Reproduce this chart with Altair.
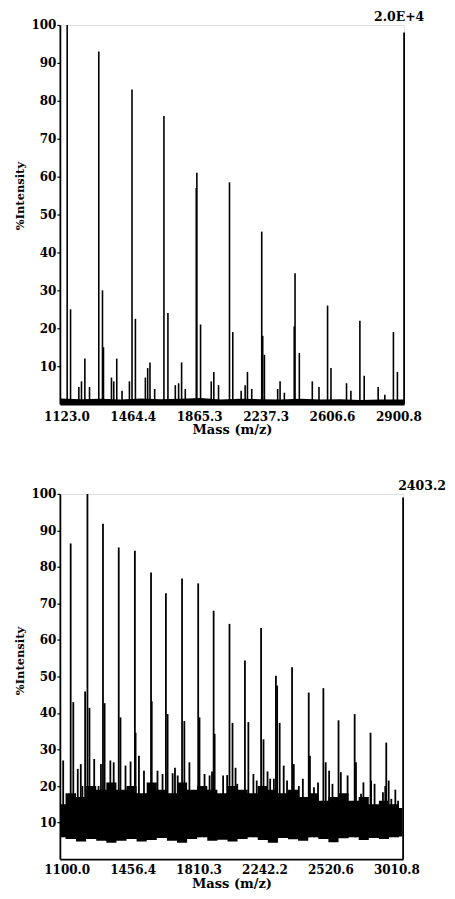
import altair as alt
import pandas as pd

# ---------------- Top spectrum ----------------
top_peak_mass = [1127.3, 1145.4, 1189.8, 1204.0, 1222.0, 1247.0, 1296.6, 1316.4, 1321.7,
                 1364.5, 1376.7, 1392.8, 1421.0, 1460.6, 1474.5, 1492.7, 1546.0, 1558.4,
                 1570.7, 1595.8, 1645.4, 1666.8, 1706.3, 1724.0, 1740.0, 1759.8, 1818.5,
                 1821.7, 1841.5, 1898.7, 1912.5, 1937.7, 1996.4, 2014.0, 2058.9, 2080.3,
                 2092.6, 2115.5, 2169.0, 2174.3, 2183.4, 2254.4, 2267.3, 2290.2, 2343.0,
                 2347.4, 2370.4, 2439.8, 2475.6, 2521.5, 2539.7, 2623.0, 2646.5, 2694.6,
                 2717.6, 2792.4, 2828.2, 2874.1, 2895.5]
top_peak_int = [100, 25, 4.5, 6, 12, 4.5, 93, 30, 15,
                7, 6, 12, 3.5, 6, 83, 22.5, 7, 9.5,
                11, 4, 76, 24, 5, 5.5, 11, 4, 57,
                61, 21, 6, 8.5, 5, 58.5, 19, 3.5, 5,
                8.5, 4, 45.5, 18, 13, 4, 6, 3, 20.5,
                34.5, 13.5, 6, 4.5, 26, 9.5, 5.5, 3.5, 22,
                7.5, 4.5, 2.5, 19, 8.5]
top_base_mass = [1090.0, 1200.5, 1307.3, 1414.1, 1521.0, 1627.8, 1734.7, 1841.5, 1948.3,
                 2055.2, 2162.0, 2268.9, 2375.7, 2482.5, 2589.4, 2696.2, 2803.1, 2930.0]
top_base_int = [1.5, 1.3, 1.4, 1.2, 1.5, 1.3, 1.4, 1.6, 1.2,
                1.4, 1.3, 1.2, 1.4, 1.2, 1.3, 1.1, 1.2, 1.2]
top_tick_pos = [1123.0, 1478.56, 1834.12, 2189.68, 2545.24, 2900.8]
top_tick_labels = ["1123.0", "1464.4", "1865.3", "2237.3", "2606.6", "2900.8"]
top_domain = [1088.3, 2931.3]
top_marker_mass = [2931.3]
top_marker_int = [98]
top_marker_label = ["2.0E+4"]

# ---------------- Bottom spectrum ----------------
bot_major_mass = [1123.4, 1220.5, 1310.6, 1401.9, 1495.5, 1589.1, 1675.2, 1768.8, 1862.4,
                  1951.9, 2043.8, 2133.3, 2226.9, 2312.9, 2406.5, 2503.1, 2587.9, 2675.7,
                  2769.3, 2861.2, 2952.4]
bot_major_int = [86.4, 100, 91.8, 85.3, 84.4, 78.5, 72.8, 76.8, 75.5,
                 68, 64.4, 54.4, 63.3, 50.2, 52.5, 45.6, 46.8, 38,
                 39.7, 34.6, 31.9]
bot_sat_mass = [1138.6, 1207.1, 1232.2, 1320.0, 1411.9, 1499.6, 1593.2, 1685.1, 1782.2,
                1870.0, 1957.8, 2061.3, 2153.2, 2240.9, 2320.0, 2334.6, 2416.5, 2510.1,
                2601.4, 2689.1, 2776.9, 2864.7, 2966.5]
bot_sat_int = [43, 45.9, 41.4, 42.7, 38.8, 34.6, 43.2, 39.7, 37.8,
               38.8, 34.3, 37.3, 37.5, 32.8, 47.5, 37.3, 26, 28.3,
               26.5, 23.8, 26.5, 21.5, 21.5]
bot_spike_mass = [1080.0, 1164.4, 1181.9, 1191.3, 1259.7, 1284.9, 1298.9, 1353.3, 1372.7,
                  1441.1, 1470.4, 1518.9, 1548.2, 1626.6, 1655.8, 1714.4, 1727.8, 1743.6,
                  1811.5, 1899.2, 1928.5, 1942.5, 2006.9, 2030.3, 2078.9, 2088.8, 2182.4,
                  2201.7, 2264.3, 2279.6, 2301.0, 2358.0, 2377.3, 2445.7, 2469.0, 2533.5,
                  2557.0, 2621.3, 2640.6, 2728.3, 2806.2, 2820.0, 2884.6, 2933.1, 2946.6,
                  2981.7, 3005.0, 3020.9]
bot_spike_int = [27, 24.7, 26, 20, 27.4, 20, 26, 27, 26.5,
                 25.6, 26.7, 28.3, 24.2, 24.2, 23.3, 23.5, 25, 22.9,
                 26.5, 23.3, 22.9, 24, 22.9, 23, 25, 20.6, 23.3,
                 21.5, 24, 22, 22, 25.6, 21.5, 20, 22, 19.7,
                 21, 24.2, 20.6, 22.9, 17.9, 21, 20.6, 18.3, 20,
                 16.5, 19, 16]
bot_noise_mass = [1062.0, 1125.2, 1183.7, 1242.2, 1300.7, 1359.2, 1417.7, 1476.2, 1534.7,
                  1593.2, 1651.8, 1710.3, 1768.8, 1827.3, 1885.8, 1944.3, 2002.8, 2061.3,
                  2119.8, 2178.3, 2236.8, 2295.4, 2353.9, 2412.4, 2470.9, 2529.4, 2587.9,
                  2646.4, 2704.9, 2763.4, 2821.9, 2880.4, 2938.9, 2997.4, 3046.0]
bot_noise_high = [15, 18, 17, 20, 19, 21, 19, 20, 18,
                  21, 19, 18, 21, 19, 20, 19, 18, 20,
                  19, 18, 20, 19, 18, 19, 17, 18, 16,
                  17, 18, 16, 17, 15, 16, 15, 14]
bot_noise_low = [6, 5.5, 4.8, 5.5, 5, 4.5, 5, 5.5, 4.8,
                 5.2, 5.8, 5, 4.5, 5.5, 6, 5, 5.3, 4.8,
                 5.5, 6, 5.2, 4.5, 5.8, 5.4, 5, 6, 5.5,
                 4.6, 5.7, 6, 5.2, 5.8, 5.5, 6, 6.2]
bot_tick_pos = [1100.0, 1482.16, 1864.32, 2246.48, 2628.64, 3010.8]
bot_tick_labels = ["1100.0", "1456.4", "1810.3", "2242.2", "2520.6", "3010.8"]
bot_domain = [1060.8, 3050.0]
bot_marker_mass = [3050.0]
bot_marker_int = [99]
bot_marker_label = ["2403.2"]

y_ticks = [10, 20, 30, 40, 50, 60, 70, 80, 90, 100]
FONT = "DejaVu Serif"


def label_expr(pos, labels):
    arr = "[" + ",".join("'%s'" % s for s in labels) + "]"
    step = (pos[-1] - pos[0]) / (len(pos) - 1)
    return "%s[round((datum.value - %f) / %f)]" % (arr, pos[0], step)


def make_panel(peaks, base, banded, marker, ticks, labels, domain,
               width, height, mdx, floor, title_y, lab_pad, tit_pad, sw):
    xs = alt.X("mass:Q",
               scale=alt.Scale(domain=domain, nice=False, zero=False),
               axis=alt.Axis(values=ticks, labelExpr=label_expr(ticks, labels),
                             title="Mass (m/z)", ticks=False, labelPadding=lab_pad,
                             labelFont=FONT, labelFontWeight="bold", labelFontSize=12,
                             labelColor="black", labelFlush=False, labelOverlap=False,
                             titleFont=FONT, titleFontWeight="bold", titleFontSize=13,
                             titleColor="black", titlePadding=tit_pad,
                             domainColor="black", domainWidth=1.8, grid=False))
    ys = alt.Y("intensity:Q",
               scale=alt.Scale(domain=[0, 100], nice=False),
               axis=alt.Axis(values=y_ticks, title="%Intensity", tickSize=3,
                             tickColor="black", tickWidth=1.2,
                             labelFont=FONT, labelFontWeight="bold", labelFontSize=12,
                             labelColor="black", labelPadding=1,
                             titleFont=FONT, titleFontWeight="bold", titleFontSize=11.5,
                             titleColor="black", titlePadding=5, titleY=title_y,
                             domainColor="black", domainWidth=1.8, grid=False))
    layers = [alt.Chart(peaks).mark_rule(color="black", strokeWidth=sw).encode(
        x=xs, y=ys, y2=alt.datum(floor))]
    if banded:
        layers.append(alt.Chart(base).mark_area(color="black", interpolate="step").encode(
            x=xs, y=ys, y2="low:Q"))
    else:
        layers.append(alt.Chart(base).mark_area(color="black").encode(
            x=xs, y=ys, y2=alt.datum(0)))
    layers.append(alt.Chart(marker).mark_rule(color="black", strokeWidth=1.8).encode(
        x=xs, y=ys, y2=alt.datum(0)))
    layers.append(alt.Chart(marker).mark_text(
        align="center", baseline="bottom", dx=mdx, dy=-1, font=FONT,
        fontWeight="bold", fontSize=12.5, color="black").encode(
        x=xs, y=alt.datum(100), text="label:N"))
    return alt.layer(*layers).properties(width=width, height=height)


top_peaks = pd.DataFrame({"mass": top_peak_mass, "intensity": top_peak_int})
top_base = pd.DataFrame({"mass": top_base_mass, "intensity": top_base_int})
top_marker = pd.DataFrame({"mass": top_marker_mass, "intensity": top_marker_int,
                           "label": top_marker_label})

bot_peaks = pd.DataFrame({
    "mass": bot_major_mass + bot_sat_mass + bot_spike_mass,
    "intensity": bot_major_int + bot_sat_int + bot_spike_int})
bot_noise = pd.DataFrame({"mass": bot_noise_mass, "intensity": bot_noise_high,
                          "low": bot_noise_low})
bot_marker = pd.DataFrame({"mass": bot_marker_mass, "intensity": bot_marker_int,
                           "label": bot_marker_label})

top = make_panel(top_peaks, top_base, False, top_marker, top_tick_pos,
                 top_tick_labels, top_domain, 345, 380, -5, 0, 171, 7, 1, 1.6)
bottom = make_panel(bot_peaks, bot_noise, True, bot_marker, bot_tick_pos,
                    bot_tick_labels, bot_domain, 344, 366, 19, 6, 167, 5, 2, 1.8)

chart = alt.vconcat(top, bottom, spacing=42).properties(
    padding={"top": 1, "bottom": 0, "left": 6, "right": 0}
).configure_view(stroke="transparent").configure(background="white")

chart.save("out.html", embed_options={"renderer": "svg", "actions": False})
